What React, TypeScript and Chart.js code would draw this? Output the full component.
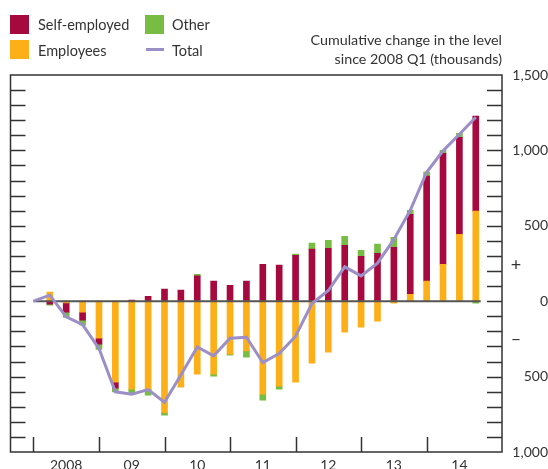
import React, { useEffect, useRef } from "react";
import { Chart, registerables } from "chart.js";

Chart.register(...registerables);

// Quarters: index 0 = 2008 Q1 (base), bars from 2008 Q2 to 2014 Q4
const quarters: string[] = [];
for (let yr = 2008; yr <= 2014; yr++) for (let q = 1; q <= 4; q++) quarters.push(`${yr} Q${q}`);

const yearLabels = ["2008", "09", "10", "11", "12", "13", "14"];

// Cumulative change since 2008 Q1 (thousands), 2008 Q2 .. 2014 Q4
const employees = [
  60, -11, -73, -245, -537, -583, -581, -740, -568, -484, -484, -351, -329, -617,
  -564, -537, -411, -338, -206, -172, -133, -13, 46, 133, 245, 444, 597,
];
const selfEmployed = [
  -20, -62, -53, -40, -40, 7, 33, 80, 73, 168, 133, 106, 133, 245,
  239, 305, 345, 351, 371, 298, 318, 358, 530, 696, 736, 643, 630,
];
const other = [
  -6, -35, -33, -35, -24, -29, -42, -15, 0, 11, -13, -7, -42, -40,
  -20, 7, 40, 53, 60, 40, 60, 66, 27, 27, 20, 27, -13,
];
// Total, 2008 Q1 .. 2014 Q4
const total = [
  0, 40, -104, -155, -314, -601, -617, -586, -670, -490, -303, -362, -245, -239,
  -407, -347, -232, -15, 71, 228, 168, 252, 410, 603, 855, 997, 1107, 1220,
];

const yLabelValues = [-1000, -500, 0, 500, 1000, 1500];

const COLORS = {
  self: "#A6093D",
  emp: "#FCAF17",
  other: "#77BD43",
  total: "#9C8FC8",
  text: "#333333",
  axis: "#333333",
  zero: "#555555",
};
const FONT = "Lato";

export default function App() {
  const ref = useRef<HTMLCanvasElement | null>(null);

  useEffect(() => {
    if (!ref.current) return;
    const idx = (i: number) => quarters.indexOf(quarters[i + 1]);
    const barData = (arr: number[]) => arr.map((v, i) => ({ x: idx(i), y: v }));
    const lineData = total.map((v, i) => ({ x: quarters.indexOf(quarters[i]), y: v }));
    const lastIdx = quarters.length - 1;

    const m = document.createElement("canvas").getContext("2d")!;
    m.font = `14px ${FONT}`;
    const widest = m.measureText("1,500").width;

    const framePlugin = {
      id: "frame",
      afterDraw(chart: any) {
        const { ctx, chartArea, scales } = chart;
        const { left, right, top, bottom } = chartArea;
        const x = scales.x;
        const y = scales.y;
        ctx.save();
        ctx.strokeStyle = COLORS.axis;
        ctx.lineWidth = 1.5;
        ctx.strokeRect(left, top, right - left, bottom - top);
        ctx.beginPath();
        for (let v = -900; v <= 1400; v += 100) {
          const py = Math.round(y.getPixelForValue(v)) + 0.5;
          ctx.moveTo(left, py);
          ctx.lineTo(left + 15, py);
          ctx.moveTo(right - 15, py);
          ctx.lineTo(right, py);
        }
        for (let k = 0; k < yearLabels.length; k++) {
          const px = Math.round(x.getPixelForValue(k * 4)) + 0.5;
          ctx.moveTo(px, bottom);
          ctx.lineTo(px, bottom - 15);
        }
        ctx.stroke();
        ctx.fillStyle = COLORS.text;
        ctx.font = `18px ${FONT}`;
        ctx.textAlign = "center";
        ctx.textBaseline = "middle";
        ctx.fillText("+", right + 14, y.getPixelForValue(240));
        ctx.fillText("\u2013", right + 14, y.getPixelForValue(-250));
        ctx.restore();
      },
    };

    const chart = new Chart(ref.current, {
      type: "bar",
      data: {
        datasets: [
          {
            type: "bar",
            label: "Employees",
            data: barData(employees),
            backgroundColor: COLORS.emp,
            stack: "jobs",
            order: 2,
            barThickness: 6,
          } as any,
          {
            type: "bar",
            label: "Self-employed",
            data: barData(selfEmployed),
            backgroundColor: COLORS.self,
            stack: "jobs",
            order: 2,
            barThickness: 6,
          },
          {
            type: "bar",
            label: "Other",
            data: barData(other),
            backgroundColor: COLORS.other,
            stack: "jobs",
            order: 2,
            barThickness: 6,
          },
          {
            type: "line",
            label: "zero",
            data: [
              { x: 0, y: 0 },
              { x: lastIdx + 0.3, y: 0 },
            ],
            borderColor: COLORS.zero,
            borderWidth: 2,
            pointRadius: 0,
            stack: "zero",
            order: 1,
          },
          {
            type: "line",
            label: "Total",
            data: lineData,
            borderColor: COLORS.total,
            borderWidth: 3,
            pointRadius: 0,
            tension: 0,
            stack: "total",
            order: 0,
          },
        ],
      },
      options: {
        animation: false,
        responsive: false,
        layout: { padding: { left: 10.5, top: 75, right: 0, bottom: 0 } },
        plugins: { legend: { display: false }, tooltip: { enabled: false } },
        scales: {
          x: {
            type: "linear",
            offset: false,
            min: -1.4,
            max: 28.6,
            grid: { display: false, drawTicks: false, offset: false },
            border: { display: false },
            afterBuildTicks: (s: any) => {
              s.ticks = yearLabels.map((_, k) => ({ value: k * 4 + 2 }));
            },
            afterFit: (s: any) => {
              s.height = 17;
            },
            ticks: {
              autoSkip: false,
              maxRotation: 0,
              padding: 5,
              color: COLORS.text,
              font: { family: FONT, size: 14 },
              callback: (v: any) => yearLabels[Math.round((Number(v) - 2) / 4)] ?? "",
            },
          },
          y: {
            type: "linear",
            position: "right",
            stacked: true,
            min: -1000,
            max: 1500,
            grid: { display: false, drawTicks: false },
            border: { display: false },
            afterBuildTicks: (s: any) => {
              s.ticks = yLabelValues.map((v) => ({ value: v }));
            },
            afterFit: (s: any) => {
              s.width = 46;
            },
            ticks: {
              autoSkip: false,
              crossAlign: "far",
              padding: 546 - 502 - widest,
              color: COLORS.text,
              font: { family: FONT, size: 14 },
              callback: (v: any) => Math.abs(Number(v)).toLocaleString("en-US"),
            },
          },
        },
      },
      plugins: [framePlugin],
    } as any);
    return () => chart.destroy();
  }, []);

  const textStyle: React.CSSProperties = {
    position: "absolute",
    fontSize: 14.5,
    lineHeight: "20px",
    whiteSpace: "nowrap",
  };
  const swatch = (left: number, top: number, color: string): React.CSSProperties => ({
    position: "absolute",
    left,
    top,
    width: 19,
    height: 19,
    background: color,
  });

  return (
    <div
      style={{
        position: "absolute",
        left: 0,
        top: 0,
        width: 548,
        height: 469,
        overflow: "hidden",
        fontFamily: FONT,
        color: COLORS.text,
        background: "#fff",
      }}
    >
      <canvas ref={ref} width={548} height={469} style={{ position: "absolute", left: 0, top: 0 }} />
      <div style={swatch(10, 15, COLORS.self)} />
      <div style={{ ...textStyle, left: 38, top: 15 }}>Self-employed</div>
      <div style={swatch(10, 40, COLORS.emp)} />
      <div style={{ ...textStyle, left: 38, top: 41 }}>Employees</div>
      <div style={swatch(145, 15, COLORS.other)} />
      <div style={{ ...textStyle, left: 172, top: 15 }}>Other</div>
      <div
        style={{ position: "absolute", left: 146, top: 48, width: 18, height: 3, background: COLORS.total }}
      />
      <div style={{ ...textStyle, left: 172, top: 41 }}>Total</div>
      <div
        style={{
          position: "absolute",
          right: 547 - 501,
          top: 30,
          textAlign: "right",
          fontSize: 14.3,
          lineHeight: "19px",
          whiteSpace: "nowrap",
        }}
      >
        Cumulative change in the level
        <br />
        since 2008 Q1 (thousands)
      </div>
    </div>
  );
}
